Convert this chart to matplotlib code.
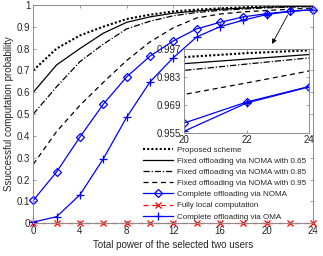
import numpy as np
import matplotlib
matplotlib.use("Agg")
import matplotlib.pyplot as plt

plt.rcParams['font.family'] = ['Liberation Sans', 'DejaVu Sans']

# data
power = [0, 2, 4, 6, 8, 10, 12, 14, 16, 18, 20, 22, 24]
proposed = [0.70, 0.80, 0.86, 0.90, 0.935, 0.955, 0.970, 0.978, 0.984, 0.989, 0.993, 0.995, 0.9964]
fixed_065 = [0.60, 0.725, 0.80, 0.87, 0.92, 0.945, 0.962, 0.972, 0.980, 0.985, 0.9897, 0.992, 0.9943]
fixed_085 = [0.50, 0.625, 0.74, 0.82, 0.89, 0.925, 0.950, 0.965, 0.975, 0.981, 0.9863, 0.9895, 0.9926]
fixed_095 = [0.27, 0.42, 0.54, 0.645, 0.745, 0.83, 0.895, 0.94, 0.958, 0.968, 0.9742, 0.980, 0.986]
complete_noma = [0.105, 0.235, 0.395, 0.545, 0.67, 0.765, 0.835, 0.89, 0.92, 0.945, 0.9598, 0.9704, 0.9782]
fully_local = [0, 0, 0, 0, 0, 0, 0, 0, 0, 0, 0, 0, 0]
complete_oma = [0.005, 0.03, 0.13, 0.295, 0.485, 0.647, 0.758, 0.853, 0.90, 0.93, 0.9557, 0.9699, 0.978]

labels = ["Proposed scheme",
          "Fixed offloading via NOMA with 0.65",
          "Fixed offloading via NOMA with 0.85",
          "Fixed offloading via NOMA with 0.95",
          "Complete offloading via NOMA",
          "Fully local computation",
          "Complete offloading via OMA"]

xticks = [0, 4, 8, 12, 16, 20, 24]
yticks = [0, 0.1, 0.2, 0.3, 0.4, 0.5, 0.6, 0.7, 0.8, 0.9, 1]
ytick_labels = ["0", "0.1", "0.2", "0.3", "0.4", "0.5", "0.6", "0.7", "0.8", "0.9", "1"]
inset_xticks = [20, 22, 24]
inset_yticks = [0.955, 0.969, 0.983, 0.997]

text_c = '#262626'
spine_c = '#8c8c8c'


def draw_curves(a):
    a.plot(power, proposed, color='k', ls=(0, (1, 1)), lw=1.5, label=labels[0])
    a.plot(power, fixed_065, color='k', ls='-', lw=0.9, label=labels[1])
    a.plot(power, fixed_085, color='k', ls=(0, (5, 1.5, 1, 1.5)), lw=0.9, label=labels[2])
    a.plot(power, fixed_095, color='k', ls=(0, (4, 3)), lw=0.9, label=labels[3])
    a.plot(power, complete_noma, color='b', ls='-', lw=0.9, marker='D', ms=4.5,
           mfc='none', mew=0.9, clip_on=False, label=labels[4])
    a.plot(power, fully_local, color='r', ls=(0, (4, 3)), lw=0.9, marker='x', ms=4.5,
           mew=0.9, clip_on=False, label=labels[5])
    a.plot(power, complete_oma, color='b', ls='-', lw=0.9, marker='+', ms=5.5,
           mew=0.9, clip_on=False, label=labels[6])


def style_axes(a):
    for s in a.spines.values():
        s.set_color(spine_c)
        s.set_linewidth(0.7)
    a.tick_params(direction='in', length=2.5, width=0.6, colors=spine_c,
                  labelcolor=text_c, labelsize=7, top=True, right=True, pad=2)


fig = plt.figure(figsize=(3.23, 2.56), dpi=100)
ax = fig.add_axes([0.103, 0.128, 0.867, 0.853])
draw_curves(ax)
ax.set_xlim(0, 24)
ax.set_ylim(0, 1)
ax.set_xticks(xticks)
ax.set_yticks(yticks)
ax.set_yticklabels(ytick_labels)
style_axes(ax)
ax.set_xlabel("Total power of the selected two users", fontsize=7, color=text_c, labelpad=3)
ax.set_ylabel("Ssuccessful computation probability", fontsize=7, color=text_c, labelpad=2)

# arrow pointing to the zoomed region
ax.annotate('', xy=(20.35, 0.81), xytext=(21.9, 0.963),
            arrowprops=dict(arrowstyle='-|>', color='k', lw=0.6, mutation_scale=7))

leg = ax.legend(loc='upper left', bbox_to_anchor=(0.443, 0.430), bbox_transform=fig.transFigure,
                frameon=False, fontsize=5.8, borderpad=0, borderaxespad=0,
                handlelength=3.7, handletextpad=0.46, labelspacing=0.44, numpoints=1)
for t in leg.get_texts():
    t.set_color(text_c)

# inset
axin = fig.add_axes([0.570, 0.482, 0.387, 0.326])
draw_curves(axin)
axin.set_xlim(20, 24)
axin.set_ylim(0.955, 0.997)
axin.set_xticks(inset_xticks)
axin.set_yticks(inset_yticks)
axin.set_yticklabels([f"{v:.3f}" for v in inset_yticks])
style_axes(axin)
for ln in axin.get_lines():
    ln.set_clip_on(True)

fig.savefig("out.png", dpi=100)
